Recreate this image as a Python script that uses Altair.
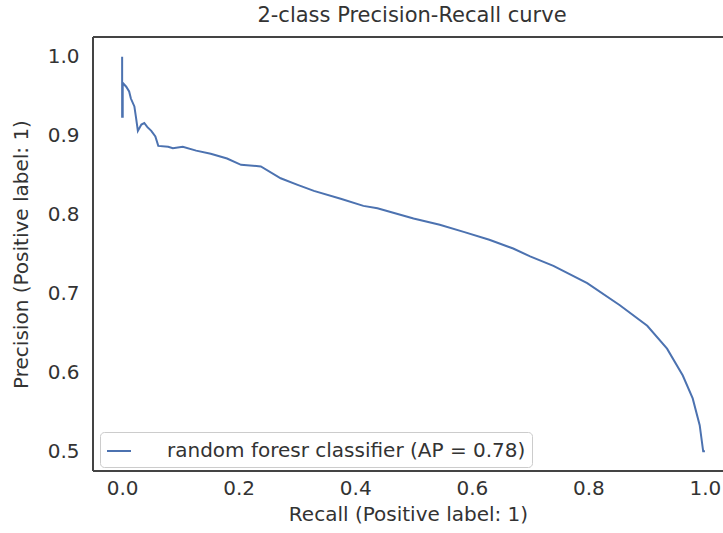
import altair as alt
import pandas as pd

# Precision-recall curve of the random forest classifier (traced from recall 0 upward)
recall = [
    0.000, 0.000, 0.001, 0.001, 0.007, 0.012, 0.015, 0.021, 0.024, 0.027,
    0.033, 0.038, 0.043, 0.050, 0.057, 0.062, 0.079, 0.087, 0.104, 0.127,
    0.152, 0.180, 0.204, 0.238, 0.272, 0.300, 0.329, 0.375, 0.414, 0.438,
    0.500, 0.545, 0.586, 0.630, 0.671, 0.700, 0.740, 0.798, 0.854, 0.901,
    0.935, 0.962, 0.979, 0.991, 0.997, 1.000,
]
precision = [
    1.000, 0.924, 0.924, 0.967, 0.962, 0.956, 0.947, 0.937, 0.922, 0.906,
    0.914, 0.916, 0.911, 0.906, 0.899, 0.887, 0.886, 0.884, 0.886, 0.881,
    0.877, 0.871, 0.863, 0.861, 0.846, 0.838, 0.830, 0.820, 0.811, 0.808,
    0.795, 0.787, 0.778, 0.768, 0.757, 0.747, 0.735, 0.713, 0.685, 0.659,
    0.630, 0.596, 0.567, 0.533, 0.500, 0.500,
]
series_name = "random foresr classifier (AP = 0.78)"
x_ticks = [0.0, 0.2, 0.4, 0.6, 0.8, 1.0]
y_ticks = [0.5, 0.6, 0.7, 0.8, 0.9, 1.0]

df = pd.DataFrame({
    "recall": recall,
    "precision": precision,
    "step": list(range(len(recall))),
    "series": series_name,
})

W, H = 630, 434
FONT = "DejaVu Sans"
TEXT = "#333333"
FRAME = "#444444"

x_scale = alt.Scale(domain=[-0.05, 1.031], nice=False, zero=False)
y_scale = alt.Scale(domain=[0.475, 1.025], nice=False, zero=False)

curve = alt.Chart(df).mark_line(strokeWidth=2, clip=True).encode(
    x=alt.X("recall:Q", scale=x_scale,
            axis=alt.Axis(values=x_ticks, format=".1f", title="Recall (Positive label: 1)",
                          labelPadding=7, titlePadding=6)),
    y=alt.Y("precision:Q", scale=y_scale,
            axis=alt.Axis(values=y_ticks, format=".1f", title="Precision (Positive label: 1)",
                          labelPadding=14, titlePadding=16)),
    order="step:Q",
    color=alt.Color("series:N",
                    scale=alt.Scale(domain=[series_name], range=["#4c72b0"]),
                    legend=alt.Legend(
                        title=None, orient="none", legendX=7, legendY=395,
                        symbolType="stroke", symbolSize=576, symbolStrokeWidth=2,
                        labelOffset=35, labelLimit=500, padding=6,
                        strokeColor="#cccccc", fillColor="white", cornerRadius=4,
                    )),
)

# Frame on the left, top and bottom of the plot area
left_edge = alt.Chart(df).mark_rule(color=FRAME, strokeWidth=2).encode(
    x=alt.value(0), y=alt.value(0), y2=alt.value(H))
top_edge = alt.Chart(df).mark_rule(color=FRAME, strokeWidth=2).encode(
    x=alt.value(0), x2=alt.value(W), y=alt.value(0))
bottom_edge = alt.Chart(df).mark_rule(color=FRAME, strokeWidth=2).encode(
    x=alt.value(0), x2=alt.value(W), y=alt.value(H))

chart = alt.layer(curve, left_edge, top_edge, bottom_edge).properties(
    width=W, height=H,
    background="white",
    title=alt.TitleParams("2-class Precision-Recall curve", fontSize=21, font=FONT,
                          fontWeight="normal", color=TEXT, anchor="middle", offset=10, dx=4),
    autosize=alt.AutoSizeParams(type="none"),
    padding={"left": 93, "top": 37, "right": 0, "bottom": 62},
).configure_view(stroke=None).configure_axis(
    grid=False, ticks=False, domain=False,
    labelFont=FONT, titleFont=FONT, labelFontSize=20, titleFontSize=20,
    labelColor=TEXT, titleColor=TEXT, titleFontWeight="normal",
).configure_legend(
    labelFont=FONT, labelFontSize=20, labelColor=TEXT,
)

chart.save("out.html", embed_options={"renderer": "svg", "actions": False})
